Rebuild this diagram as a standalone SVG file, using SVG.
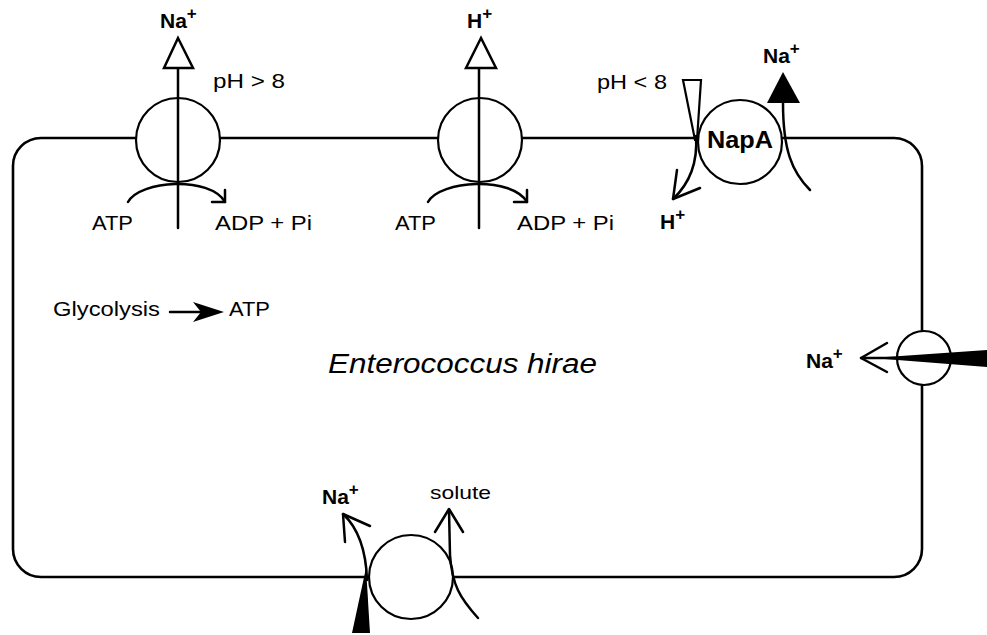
<svg xmlns="http://www.w3.org/2000/svg" width="987" height="635" viewBox="0 0 987 635">
<style>
  .ln { fill: none; stroke: #000; stroke-width: 2.5; stroke-linecap: round; stroke-linejoin: round; }
  .pump { fill: #fff; stroke: #000; stroke-width: 2.2; }
  .t { font-family: "Liberation Sans", Arial, sans-serif; font-size: 21px; fill: #000; }
  .b { font-weight: bold; }
  .sup { font-size: 17px; font-weight: bold; }
</style>
<rect width="987" height="635" fill="#fff"/>
<g id="membrane">
  <rect x="13" y="138" width="909" height="439" rx="28" ry="28" fill="none" stroke="#000" stroke-width="2.6"/>
</g>
<g id="na-atpase">
  <circle class="pump" cx="178" cy="140" r="42"/>
  <text class="t" x="92" y="230" textLength="41" lengthAdjust="spacingAndGlyphs">ATP</text>
  <text class="t" x="215" y="230" textLength="97" lengthAdjust="spacingAndGlyphs">ADP + Pi</text>
  <text class="t" x="213" y="88" textLength="72" lengthAdjust="spacingAndGlyphs">pH &gt; 8</text>
  <text class="t b" x="160" y="28">Na<tspan class="sup" dy="-9">+</tspan></text>
</g>
<g id="h-atpase">
  <circle class="pump" cx="480" cy="140" r="42"/>
  <text class="t" x="395" y="230" textLength="41" lengthAdjust="spacingAndGlyphs">ATP</text>
  <text class="t" x="517" y="230" textLength="97" lengthAdjust="spacingAndGlyphs">ADP + Pi</text>
  <text class="t b" x="467" y="28">H<tspan class="sup" dy="-9">+</tspan></text>
</g>
<g id="napa">
  <circle class="pump" cx="740" cy="142" r="42"/>
  <text class="t b" x="707" y="148" textLength="66" lengthAdjust="spacingAndGlyphs" style="font-size:24px">NapA</text>
  <text class="t" x="597" y="89" textLength="70" lengthAdjust="spacingAndGlyphs">pH &lt; 8</text>
  <text class="t b" x="763" y="63">Na<tspan class="sup" dy="-9">+</tspan></text>
  <text class="t b" x="660" y="229">H<tspan class="sup" dy="-9">+</tspan></text>
</g>
<g id="na-channel">
  <circle class="pump" cx="924" cy="358" r="27"/>
  <text class="t b" x="806" y="368">Na<tspan class="sup" dy="-9">+</tspan></text>
</g>
<g id="symporter">
  <circle class="pump" cx="411" cy="577" r="42"/>
  <text class="t b" x="322" y="504">Na<tspan class="sup" dy="-9">+</tspan></text>
  <text class="t" x="430" y="499" textLength="61" lengthAdjust="spacingAndGlyphs" style="font-size:19px">solute</text>
</g>
<g id="glycolysis">
  <text class="t" x="53" y="316" textLength="107" lengthAdjust="spacingAndGlyphs">Glycolysis</text>
  <text class="t" x="229" y="316" textLength="41" lengthAdjust="spacingAndGlyphs">ATP</text>
</g>
<g id="cell-label">
  <text class="t" x="328" y="373" textLength="269" lengthAdjust="spacingAndGlyphs" style="font-size:27px;font-style:italic">Enterococcus hirae</text>
</g>
<g id="connectors">
  <!-- Na+ ATPase -->
  <line class="ln" x1="178" y1="68" x2="178" y2="228"/>
  <polygon points="178,38 164,68 193,68" fill="#fff" stroke="#000" stroke-width="2.5" stroke-linejoin="miter"/>
  <path class="ln" d="M128,202 C140,180 210,176 225,202"/>
  <polyline class="ln" points="225,190 225,202 212,202"/>
  <!-- H+ ATPase -->
  <line class="ln" x1="479" y1="68" x2="479" y2="228"/>
  <polygon points="481,38 466,68 496,68" fill="#fff" stroke="#000" stroke-width="2.5" stroke-linejoin="miter"/>
  <path class="ln" d="M428,202 C440,180 512,176 527,202"/>
  <polyline class="ln" points="527,190 527,202 514,202"/>
  <!-- NapA -->
  <polygon points="683,80 701,80 697,140 695,140" fill="#fff" stroke="#000" stroke-width="2.2" stroke-linejoin="miter"/>
  <path class="ln" d="M696,136 C698,165 689,184 673,199" stroke-width="3"/>
  <polyline class="ln" points="677,170 673,199 700,188" stroke-width="3"/>
  <path class="ln" d="M810,190 C792,172 783,150 783,103"/>
  <polygon points="783,72 767,103 800,103" fill="#000"/>
  <!-- Na+ channel -->
  <polygon points="872,358 987,350 987,367" fill="#000"/>
  <line class="ln" x1="861" y1="358" x2="900" y2="358"/>
  <polyline class="ln" points="887,343 861,358 887,372" stroke-width="3"/>
  <!-- symporter -->
  <polygon points="352,633 370,633 366,568" fill="#000"/>
  <path class="ln" d="M367,580 C366,548 357,527 343,514"/>
  <polyline class="ln" points="345,542 343,514 370,526"/>
  <path class="ln" d="M478,618 C460,598 452,585 450,555 L449,510"/>
  <polyline class="ln" points="435,532 449,509 463,532" stroke-width="3"/>
  <!-- glycolysis -->
  <line class="ln" x1="170" y1="312" x2="205" y2="312"/>
  <polygon points="224,312 193,302 201,312 193,322" fill="#000"/>
</g>
</svg>
